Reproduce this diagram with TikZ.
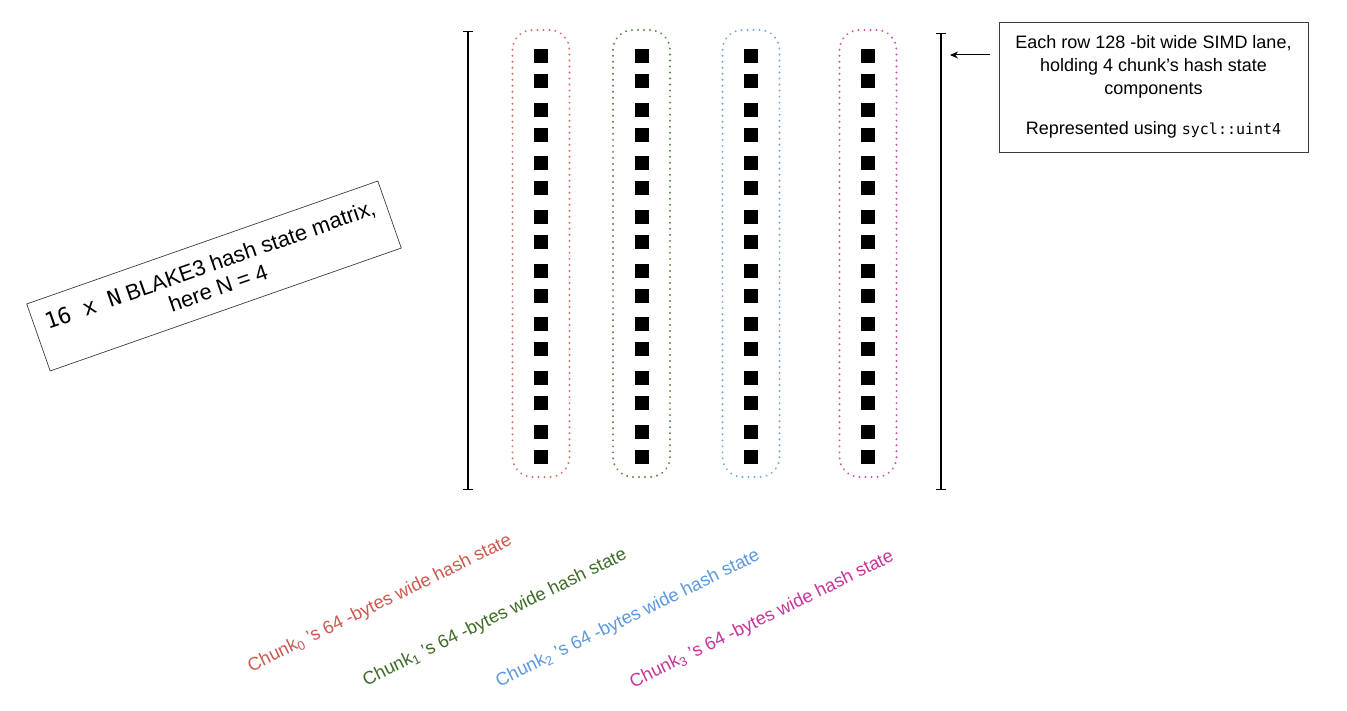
\documentclass[tikz,border=0pt]{standalone}
\usepackage{fontspec}
\setmainfont{Liberation Sans}
\newfontfamily\codefont{DejaVu Sans Mono}
\usepackage{tikz}
\usetikzlibrary{arrows.meta}
\definecolor{chunkred}{RGB}{205,88,78}
\definecolor{chunkgreen}{RGB}{62,108,36}
\definecolor{chunkblue}{RGB}{92,152,222}
\definecolor{chunkpink}{RGB}{200,52,152}
\definecolor{boxgrey}{RGB}{60,60,60}

\tikzset{
  cell/.style={fill=black, minimum size=14pt, inner sep=0pt},
  lanebox/.style={draw=#1!85, line width=2.2pt, dash pattern=on 0.01pt off 6pt, line cap=round,
    rounded corners=20pt, minimum width=57pt, minimum height=447pt, inner sep=0pt},
  notebox/.style={draw=boxgrey, line width=0.7pt, inner sep=0pt, align=center},
  chunklabel/.style={text=#1, rotate=26, font=\fontsize{18.3}{22}\selectfont},
  span/.style={line width=1.2pt, {Bar[width=10pt]}-{Bar[width=10pt]}}
}

\begin{document}
\begin{tikzpicture}[x=1pt, y=-1pt]
\useasboundingbox (0,0) rectangle (1347,711);

% the four lanes, 16 rows each
\foreach \c/\x/\col in {0/541/chunkred, 1/641.5/chunkgreen, 2/751/chunkblue, 3/868/chunkpink} {
  \node[lanebox=\col] (lane\c) at (\x,253.5) {};
  \foreach \r in {0,...,15} {
    \pgfmathsetmacro\ypos{56+floor(\r/2)*53.7+mod(\r,2)*25}
    \node[cell] (c\c r\r) at (\x,\ypos) {};
  }
}

% height of the matrix
\coordinate (ltop) at (468,31);
\coordinate (lbot) at (468,490);
\coordinate (rtop) at (941,33);
\coordinate (rbot) at (941,490);
\draw[span] (ltop) -- (lbot);
\draw[span] (rtop) -- (rbot);

% matrix description
\node[notebox, rotate=19.3, minimum width=372pt, minimum height=71pt,
      font=\fontsize{22}{25}\selectfont] (matrix) at (214,276)
  {{\codefont 16 x N} BLAKE3 hash state matrix,\\ here N = 4};

% row description
\node[notebox, minimum width=309pt, minimum height=130pt,
      font=\fontsize{18}{23}\selectfont] (note) at (1153.5,87)
  {Each row 128 -bit wide SIMD lane,\\ holding 4 chunk’s hash state\\ components\\[17pt]
   Represented using {\codefont\fontsize{15}{18}\selectfont sycl::uint4}};
\coordinate (arrhead) at (950,55);
\draw[line width=1pt, -{Stealth[length=8pt, width=7pt]}, shorten <=9pt] (note.west |- arrhead) -- (arrhead);

% lane labels
\node[chunklabel=chunkred] (lab0) at (380,604) {Chunk\textsubscript{0} ’s 64 -bytes wide hash state};
\node[chunklabel=chunkgreen] (lab1) at (495,618) {Chunk\textsubscript{1} ’s 64 -bytes wide hash state};
\node[chunklabel=chunkblue] (lab2) at (628,619) {Chunk\textsubscript{2} ’s 64 -bytes wide hash state};
\node[chunklabel=chunkpink] (lab3) at (762,620) {Chunk\textsubscript{3} ’s 64 -bytes wide hash state};
\end{tikzpicture}
\end{document}
